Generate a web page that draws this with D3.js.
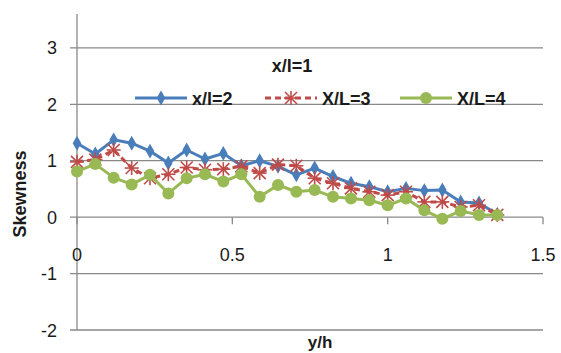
<!DOCTYPE html>
<html lang="en">
<head>
    <meta charset="UTF-8">
    <title>Skewness vs y/h</title>
    <style>
        body { margin: 0; background: #fff; }
        svg text { font-family: "Liberation Sans", Arial, sans-serif; fill: #1b1b1b; }
    </style>
</head>
<body>
<div id="chart"></div>
<script src="https://d3js.org/d3.v7.min.js"></script>
<script>

    // y/h stations
    var yh = [0, 0.059, 0.118, 0.176, 0.235, 0.294, 0.353, 0.412, 0.471, 0.529, 0.588, 0.647,
        0.706, 0.765, 0.824, 0.882, 0.941, 1.0, 1.059, 1.118, 1.176, 1.235, 1.294, 1.353];

    var skew2 = [1.31, 1.12, 1.37, 1.31, 1.17, 0.96, 1.19, 1.03, 1.13, 0.91, 1.00, 0.90,
        0.75, 0.87, 0.72, 0.60, 0.54, 0.45, 0.51, 0.47, 0.48, 0.27, 0.25, 0.05];
    var skew3 = [0.98, 1.02, 1.19, 0.87, 0.69, 0.76, 0.88, 0.84, 0.85, 0.90, 0.78, 0.93,
        0.91, 0.69, 0.60, 0.51, 0.45, 0.39, 0.45, 0.27, 0.27, 0.18, 0.21, 0.04];
    var skew4 = [0.81, 0.94, 0.70, 0.58, 0.75, 0.42, 0.69, 0.76, 0.63, 0.76, 0.36, 0.57,
        0.45, 0.48, 0.36, 0.33, 0.30, 0.21, 0.33, 0.12, -0.03, 0.11, 0.04, 0.04];

    var seriesNames = ["x/l=2", "X/L=3", "X/L=4"];
    var xTicks = [0, 0.5, 1, 1.5];
    var yTicks = [-2, -1, 0, 1, 2, 3];

    var width = 561,
        height = 353;

    var svg = d3.select("#chart").append("svg")
        .attr("width", width)
        .attr("height", height);

    var x = d3.scaleLinear().domain([0, 1.5]).range([77, 543]);
    var y = d3.scaleLinear().domain([-2, 3.6]).range([330, 14]);

    var gridColor = "#898989";

    // horizontal gridlines (the zero one doubles as the x axis)
    svg.append("g").selectAll("line")
        .data(yTicks)
        .enter().append("line")
        .attr("x1", x(0) - 7)
        .attr("x2", x(1.5))
        .attr("y1", function (d) { return y(d); })
        .attr("y2", function (d) { return y(d); })
        .attr("stroke", gridColor)
        .attr("stroke-width", 1.3);

    svg.append("line")
        .attr("x1", x(0)).attr("x2", x(0))
        .attr("y1", y(3.6)).attr("y2", y(-2))
        .attr("stroke", gridColor)
        .attr("stroke-width", 1.3);

    // x ticks hang below zero line
    svg.append("g").selectAll("line")
        .data(xTicks)
        .enter().append("line")
        .attr("x1", function (d) { return x(d); })
        .attr("x2", function (d) { return x(d); })
        .attr("y1", y(0))
        .attr("y2", y(0) + 7)
        .attr("stroke", gridColor)
        .attr("stroke-width", 1.3);

    svg.append("g").selectAll("text")
        .data(yTicks)
        .enter().append("text")
        .attr("x", 57)
        .attr("y", function (d) { return y(d) + 6.5; })
        .attr("text-anchor", "end")
        .attr("font-size", "18px")
        .text(function (d) { return d; });

    svg.append("g").selectAll("text")
        .data(xTicks)
        .enter().append("text")
        .attr("x", function (d) { return x(d); })
        .attr("y", 261)
        .attr("text-anchor", "middle")
        .attr("font-size", "18px")
        .text(function (d) { return d; });

    svg.append("text")
        .attr("transform", "translate(26,194) rotate(-90)")
        .attr("text-anchor", "middle")
        .attr("font-size", "18px")
        .attr("font-weight", "bold")
        .text("Skewness");

    svg.append("text")
        .attr("x", 320)
        .attr("y", 348)
        .attr("text-anchor", "middle")
        .attr("font-size", "17px")
        .attr("font-weight", "bold")
        .text("y/h");

    var series = [
        {name: seriesNames[0], values: skew2, color: "#4A7EBB", dash: null, marker: "diamond"},
        {name: seriesNames[1], values: skew3, color: "#BE4B48", dash: "6,4", marker: "star"},
        {name: seriesNames[2], values: skew4, color: "#98B954", dash: null, marker: "circle"}
    ];

    var line = d3.line()
        .x(function (d) { return x(d[0]); })
        .y(function (d) { return y(d[1]); });

    function drawMarker(g, type, color) {
        if (type === "diamond") {
            g.append("path")
                .attr("d", d3.symbol().type(d3.symbolDiamond).size(64)())
                .attr("fill", color);
        } else if (type === "circle") {
            g.append("circle").attr("r", 6).attr("fill", color);
        } else {
            var s = 6;
            [[-s, -s, s, s], [-s, s, s, -s], [0, -s - 1, 0, s + 1], [-s - 1, 0, s + 1, 0]].forEach(function (c) {
                g.append("line")
                    .attr("x1", c[0]).attr("y1", c[1])
                    .attr("x2", c[2]).attr("y2", c[3])
                    .attr("stroke", color)
                    .attr("stroke-width", 1.6);
            });
        }
    }

    series.forEach(function (s) {
        var pts = yh.map(function (v, i) { return [v, s.values[i]]; });
        svg.append("path")
            .datum(pts)
            .attr("d", line)
            .attr("fill", "none")
            .attr("stroke", s.color)
            .attr("stroke-width", 3)
            .attr("stroke-dasharray", s.dash)
            .attr("stroke-linejoin", "round");
        svg.append("g").selectAll("g")
            .data(pts)
            .enter().append("g")
            .attr("transform", function (d) { return "translate(" + x(d[0]) + "," + y(d[1]) + ")"; })
            .each(function () { drawMarker(d3.select(this), s.marker, s.color); });
    });

    // legend
    svg.append("text")
        .attr("x", 292)
        .attr("y", 72)
        .attr("text-anchor", "middle")
        .attr("font-size", "18px")
        .attr("font-weight", "bold")
        .text("x/l=1");

    var legendX = [135, 265, 400];
    var leg = svg.append("g").selectAll("g")
        .data(series)
        .enter().append("g")
        .attr("transform", function (d, i) { return "translate(" + legendX[i] + ",98)"; });

    leg.append("line")
        .attr("x1", 0).attr("x2", 52)
        .attr("stroke", function (d) { return d.color; })
        .attr("stroke-width", 3)
        .attr("stroke-dasharray", function (d) { return d.dash; });

    leg.append("g")
        .attr("transform", "translate(26,0)")
        .each(function (d) { drawMarker(d3.select(this), d.marker, d.color); });

    leg.append("text")
        .attr("x", 57)
        .attr("y", 6.5)
        .attr("font-size", "18px")
        .attr("font-weight", "bold")
        .text(function (d) { return d.name; });

</script>
</body>
</html>
